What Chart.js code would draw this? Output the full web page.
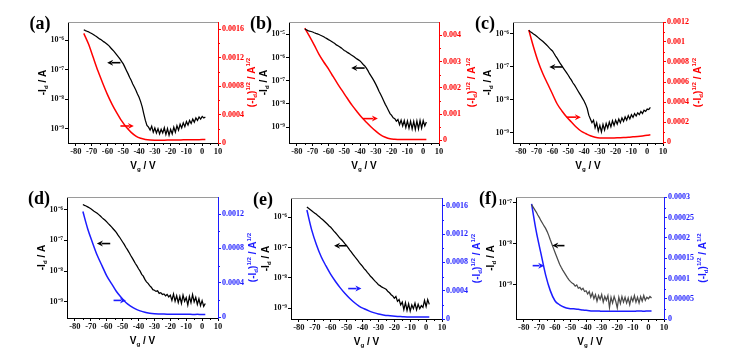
<!DOCTYPE html>
<html><head><meta charset="utf-8">
<script src="https://cdn.jsdelivr.net/npm/chart.js@4/dist/chart.umd.min.js"></script>
<style>
html,body{margin:0;padding:0;background:#fff;}
#wrap{position:relative;width:745px;height:353px;overflow:hidden;background:#fff;}
canvas{position:absolute;}
</style></head><body><div id="wrap"></div>
<script>
// ---------------- data ----------------
const vg = [-75,-74,-73,-72,-71,-70,-69,-68,-67,-66,-65,-64,-63,-62,-61,-60,-59,-58,-57,-56,-55,-54,-53,-52,-51,-50,-49,-48,-47,-46,-45,-44,-43,-42,-41,-40,-39,-38,-37,-36,-35,-34,-33,-32,-31,-30,-29,-28,-27,-26,-25,-24,-23,-22,-21,-20,-19,-18,-17,-16,-15,-14,-13,-12,-11,-10,-9,-8,-7,-6,-5,-4,-3,-2,-1,0,1,2];
const vgS = [-75,-72,-69,-66,-63,-60,-57,-54,-51,-48,-45,-42,-39,-36,-33,-30,-27,-24,-21,-18,-15,-12,-9,-6,-3,0,2];

const idA = [2.29e-6,2.14e-6,2.04e-6,1.95e-6,1.82e-6,1.70e-6,1.58e-6,1.45e-6,1.35e-6,1.23e-6,
1.12e-6,1.05e-6,9.5e-7,8.7e-7,7.9e-7,7.2e-7,6.5e-7,5.6e-7,4.9e-7,4.3e-7,
3.7e-7,3.16e-7,2.7e-7,2.3e-7,1.9e-7,1.58e-7,1.23e-7,9.5e-8,7.4e-8,5.6e-8,
4.4e-8,3.3e-8,2.6e-8,2.0e-8,1.5e-8,1.17e-8,8.3e-9,5.5e-9,3.16e-9,1.9e-9,
1.29e-9,1.12e-9,8.9e-10,1.2e-9,7.6e-10,1.05e-9,7.1e-10,1.0e-9,6.6e-10,9.5e-10,
7.1e-10,1.07e-9,6.3e-10,1.0e-9,6.0e-10,9.5e-10,6.6e-10,1.12e-9,7.6e-10,1.26e-9,
8.9e-10,1.41e-9,1.05e-9,1.58e-9,1.17e-9,1.74e-9,1.32e-9,1.9e-9,1.5e-9,2.1e-9,
1.66e-9,2.3e-9,1.9e-9,2.5e-9,2.1e-9,2.6e-9,2.3e-9,2.5e-9];
const idB = [1.70e-5,1.58e-5,1.45e-5,1.38e-5,1.32e-5,1.26e-5,1.17e-5,1.10e-5,1.05e-5,9.8e-6,
9.1e-6,8.5e-6,7.8e-6,7.1e-6,6.5e-6,5.9e-6,5.4e-6,4.9e-6,4.4e-6,4.0e-6,
3.5e-6,3.2e-6,2.9e-6,2.6e-6,2.3e-6,2.0e-6,1.86e-6,1.66e-6,1.51e-6,1.35e-6,
1.23e-6,1.10e-6,9.8e-7,8.7e-7,7.9e-7,7.1e-7,6.0e-7,5.0e-7,4.3e-7,3.5e-7,
2.7e-7,2.0e-7,1.58e-7,1.23e-7,9.3e-8,6.9e-8,5.0e-8,3.5e-8,2.6e-8,1.86e-8,
1.32e-8,9.5e-9,7.1e-9,5.2e-9,3.8e-9,3.2e-9,2.5e-9,2.3e-9,1.78e-9,2.1e-9,
1.26e-9,2.0e-9,1.12e-9,1.9e-9,9.5e-10,1.82e-9,8.9e-10,1.78e-9,8.3e-10,1.74e-9,
7.9e-10,1.82e-9,8.3e-10,1.9e-9,8.9e-10,1.9e-9,1.12e-9,1.66e-9];
const idC = [1.26e-6,1.15e-6,1.07e-6,9.8e-7,9.1e-7,8.3e-7,7.6e-7,6.9e-7,6.3e-7,5.8e-7,
5.2e-7,4.7e-7,4.2e-7,3.7e-7,3.3e-7,3.0e-7,2.5e-7,2.1e-7,1.78e-7,1.48e-7,
1.23e-7,1.05e-7,8.9e-8,7.6e-8,6.5e-8,5.5e-8,4.6e-8,3.9e-8,3.2e-8,2.75e-8,
2.3e-8,1.9e-8,1.58e-8,1.32e-8,1.10e-8,9.1e-9,7.2e-9,5.4e-9,3.4e-9,2.6e-9,
2.0e-9,2.4e-9,1.41e-9,2.0e-9,1.12e-9,1.66e-9,1.05e-9,1.78e-9,1.2e-9,1.9e-9,
1.38e-9,2.1e-9,1.5e-9,2.3e-9,1.66e-9,2.4e-9,1.82e-9,2.6e-9,2.0e-9,2.8e-9,
2.2e-9,3.0e-9,2.4e-9,3.3e-9,2.6e-9,3.5e-9,2.9e-9,3.8e-9,3.2e-9,4.0e-9,
3.5e-9,4.4e-9,3.8e-9,4.8e-9,4.4e-9,5.2e-9,5.0e-9,5.8e-9];
const idD = [1.48e-6,1.38e-6,1.32e-6,1.23e-6,1.15e-6,1.07e-6,9.8e-7,8.9e-7,8.3e-7,7.6e-7,
6.9e-7,6.2e-7,5.5e-7,5.0e-7,4.5e-7,4.0e-7,3.5e-7,3.1e-7,2.75e-7,2.4e-7,
2.1e-7,1.82e-7,1.51e-7,1.29e-7,1.07e-7,8.9e-8,7.4e-8,6.0e-8,5.0e-8,4.1e-8,
3.3e-8,2.7e-8,2.2e-8,1.78e-8,1.48e-8,1.20e-8,1.0e-8,7.9e-9,6.9e-9,5.4e-9,
4.5e-9,4.0e-9,3.4e-9,3.0e-9,2.5e-9,2.4e-9,2.2e-9,2.3e-9,1.9e-9,2.0e-9,
1.74e-9,1.82e-9,1.58e-9,1.74e-9,1.45e-9,1.66e-9,1.12e-9,1.82e-9,1.05e-9,1.58e-9,
9.5e-10,1.51e-9,8.9e-10,1.66e-9,1.05e-9,1.38e-9,7.9e-10,1.51e-9,9.5e-10,1.74e-9,
1.0e-9,1.41e-9,8.3e-10,1.26e-9,7.6e-10,1.1e-9,7.2e-10,8.9e-10];
const idE = [2.2e-6,2.0e-6,1.82e-6,1.66e-6,1.51e-6,1.38e-6,1.26e-6,1.12e-6,1.02e-6,9.1e-7,
8.3e-7,7.4e-7,6.6e-7,5.9e-7,5.2e-7,4.7e-7,4.1e-7,3.5e-7,3.1e-7,2.7e-7,
2.3e-7,2.0e-7,1.78e-7,1.55e-7,1.32e-7,1.15e-7,9.8e-8,8.3e-8,7.1e-8,6.0e-8,
5.1e-8,4.4e-8,3.8e-8,3.2e-8,2.75e-8,2.4e-8,2.0e-8,1.78e-8,1.51e-8,1.32e-8,
1.12e-8,1.0e-8,8.7e-9,7.6e-9,6.8e-9,5.9e-9,5.5e-9,5.0e-9,4.7e-9,4.4e-9,
4.1e-9,3.5e-9,3.2e-9,2.75e-9,2.5e-9,2.1e-9,2.4e-9,1.66e-9,1.9e-9,1.26e-9,
1.58e-9,8.9e-10,1.51e-9,8.3e-10,1.38e-9,7.9e-10,1.26e-9,9.5e-10,1.45e-9,8.7e-10,
1.32e-9,9.5e-10,1.2e-9,1.05e-9,1.78e-9,1.12e-9,1.9e-9,1.32e-9];
const idF = [9.1e-8,7.9e-8,6.9e-8,6.0e-8,5.1e-8,4.4e-8,3.7e-8,3.2e-8,2.75e-8,2.4e-8,
2.0e-8,1.62e-8,1.26e-8,1.0e-8,7.9e-9,6.3e-9,5.0e-9,4.0e-9,3.2e-9,2.7e-9,
2.3e-9,2.0e-9,1.74e-9,1.51e-9,1.32e-9,1.2e-9,1.12e-9,1.05e-9,9.3e-10,1.0e-9,
8.3e-10,8.7e-10,7.6e-10,8.3e-10,6.9e-10,7.2e-10,6.0e-10,6.9e-10,5.0e-10,6.3e-10,
4.6e-10,5.8e-10,4.0e-10,5.5e-10,4.4e-10,5.8e-10,3.8e-10,5.2e-10,4.2e-10,5.5e-10,
2.8e-10,5.0e-10,3.6e-10,5.2e-10,4.0e-10,2.75e-10,5.0e-10,3.5e-10,5.2e-10,3.8e-10,
5.0e-10,3.6e-10,4.8e-10,3.3e-10,5.0e-10,4.0e-10,5.5e-10,3.8e-10,5.0e-10,3.6e-10,
5.2e-10,4.0e-10,5.5e-10,4.2e-10,5.0e-10,4.6e-10,5.2e-10,4.8e-10];

const sqA = [0.00154,0.00139,0.00120,0.00101,0.00084,0.00068,0.00054,0.00042,0.00031,0.00022,0.000150,0.000098,0.000066,0.000050,0.000042,0.000040,0.000040,0.000040,0.000041,0.000042,0.000043,0.000044,0.000045,0.000046,0.000047,0.000048,0.000049];
const sqB = [0.00427,0.00395,0.00362,0.00327,0.00298,0.00272,0.00242,0.00213,0.00186,0.00159,0.00133,0.00110,0.00088,0.00069,0.00051,0.00035,0.00021,0.00012,0.00006,0.00004,0.00003,0.00003,0.00003,0.00003,0.00003,0.00003,0.00003];
const sqC = [0.00112,0.00095,0.00080,0.00068,0.00058,0.00048,0.00038,0.00031,0.00025,0.00020,0.00015,0.00011,0.000085,0.000062,0.000048,0.000041,0.000040,0.000040,0.000041,0.000043,0.000045,0.000048,0.000052,0.000056,0.000061,0.000067,0.000072];
const sqD = [0.00123,0.00103,0.00087,0.00072,0.00060,0.00048,0.00039,0.00030,0.00023,0.00017,0.000128,0.000095,0.000072,0.000055,0.000045,0.000039,0.000036,0.000034,0.000033,0.000032,0.000033,0.000031,0.000032,0.000030,0.000031,0.000030,0.000030];
const sqE = [0.00154,0.00126,0.00105,0.00088,0.00075,0.00063,0.00053,0.00044,0.00036,0.00029,0.00023,0.00018,0.000145,0.000115,0.000090,0.000070,0.000058,0.000048,0.000041,0.000036,0.000033,0.000030,0.000029,0.000028,0.000029,0.000028,0.000028];
const sqF = [0.000284,0.000216,0.000162,0.000109,0.000070,0.000045,0.000035,0.000029,0.000026,0.000025,0.000024,0.000022,0.000021,0.000020,0.000020,0.000019,0.000019,0.000019,0.000019,0.000019,0.000019,0.000019,0.000019,0.000020,0.000019,0.000020,0.000020];

// arrows: [tail Vg, tip Vg, Id level on left axis]
const arrowsA = [[-51.8,-60.2,1.74e-7],[-51.8,-43.3,1.23e-9]];
const arrowsB = [[-37.1,-45.6,3.5e-7],[-38.2,-28.7,2.3e-9]];
const arrowsC = [[-53.5,-62.0,9.8e-8],[-51.0,-42.0,2.95e-9]];
const arrowsD = [[-57.8,-66.2,7.9e-8],[-55.7,-47.9,1.12e-9]];
const arrowsE = [[-50.0,-57.9,1.15e-7],[-49.0,-40.7,4.4e-9]];
const arrowsF = [[-53.9,-61.7,9.1e-9],[-74.3,-66.9,2.95e-9]];

// ticks
const xTicks = [-80,-70,-60,-50,-40,-30,-20,-10,0,10];
const xLabels = ['-80','-70','-60','-50','-40','-30','-20','-10','0','10'];
const logTicks4 = [1e-9,1e-8,1e-7,1e-6];
const logLabels4 = ['10\u207B\u2079','10\u207B\u2078','10\u207B\u2077','10\u207B\u2076'];
const logTicks5 = [1e-9,1e-8,1e-7,1e-6,1e-5];
const logLabels5 = ['10\u207B\u2079','10\u207B\u2078','10\u207B\u2077','10\u207B\u2076','10\u207B\u2075'];
const logTicks3 = [1e-9,1e-8,1e-7];
const logLabels3 = ['10\u207B\u2079','10\u207B\u2078','10\u207B\u2077'];
const rTicksA = [0,0.0004,0.0008,0.0012,0.0016];
const rLabelsA = ['0','0.0004','0.0008','0.0012','0.0016'];
const rTicksB = [0,0.001,0.002,0.003,0.004];
const rLabelsB = ['0','0.001','0.002','0.003','0.004'];
const rTicksC = [0,0.0002,0.0004,0.0006,0.0008,0.001,0.0012];
const rLabelsC = ['0','0.0002','0.0004','0.0006','0.0008','0.001','0.0012'];
const rTicksD = [0,0.0004,0.0008,0.0012];
const rLabelsD = ['0','0.0004','0.0008','0.0012'];
const rTicksF = [0,0.00005,0.0001,0.00015,0.0002,0.00025,0.0003];
const rLabelsF = ['0','0.00005','0.0001','0.00015','0.0002','0.00025','0.0003'];

// ---------------- drawing helpers ----------------
const SANS = '"Liberation Sans", Arial, sans-serif';
const SERIF = '"Liberation Serif", "Times New Roman", serif';
const T_LEFT = [{t:'-I'},{t:'d',k:-1},{t:' / A'}];
const T_X = [{t:'V'},{t:'g',k:-1},{t:' / V'}];
const T_RIGHT = [{t:'(-I'},{t:'d',k:-1},{t:')'},{t:'1/2',k:1},{t:' / A'},{t:'1/2',k:1}];

function drawRich(ctx, segs, cx, cy, rot, color, size){
  ctx.save();
  ctx.translate(cx, cy);
  if (rot) ctx.rotate(-Math.PI/2);
  let total = 0;
  const parts = segs.map(s => {
    const fs = s.k ? size*0.62 : size;
    ctx.font = 'bold ' + fs + 'px ' + SANS;
    const w = ctx.measureText(s.t).width;
    total += w;
    return {s, fs, w};
  });
  let x = -total/2;
  ctx.fillStyle = color; ctx.textAlign = 'left'; ctx.textBaseline = 'alphabetic';
  parts.forEach(p => {
    ctx.font = 'bold ' + p.fs + 'px ' + SANS;
    const dy = p.s.k === 1 ? -size*0.42 : (p.s.k === -1 ? size*0.28 : 0);
    ctx.fillText(p.s.t, x, size*0.36 + dy);
    x += p.w;
  });
  ctx.restore();
}
function drawArrow(ctx, x0, x1, y, color){
  const dir = Math.sign(x1 - x0), hl = 6, hw = 3;
  ctx.save();
  ctx.strokeStyle = color; ctx.fillStyle = color; ctx.lineWidth = 1.6;
  ctx.beginPath(); ctx.moveTo(x0, y); ctx.lineTo(x1 - dir*hl*0.8, y); ctx.stroke();
  ctx.beginPath(); ctx.moveTo(x1, y); ctx.lineTo(x1 - dir*hl, y - hw); ctx.lineTo(x1 - dir*hl*0.7, y); ctx.lineTo(x1 - dir*hl, y + hw); ctx.closePath(); ctx.fill();
  ctx.restore();
}

// ---------------- panels ----------------
const RED = '#ff0000', BLUE = '#1c1cff';
const panels = [
  {label:'(a)', box:[0,0,262,176], plot:[68,22,218,143], id:idA, sq:sqA, arrows:arrowsA, c2:RED, c1:'#000', rto:33,
   yL:[3.25e-10,4.2e-6], lt:logTicks4, ll:logLabels4, yR:[0,0.0017], rt:rTicksA, rl:rLabelsA},
  {label:'(b)', box:[240,0,488,176], plot:[289,22,439,143], id:idB, sq:sqB, arrows:arrowsB, c2:RED, c1:'#000', rto:32,
   yL:[2.04e-10,3.4e-5], lt:logTicks5, ll:logLabels5, yR:[-0.0001,0.0045], rt:rTicksB, rl:rLabelsB},
  {label:'(c)', box:[465,0,720,176], plot:[513,22,663,143], id:idC, sq:sqC, arrows:arrowsC, c2:RED, c1:'#000', rto:34,
   yL:[4.86e-10,2.26e-6], lt:logTicks4, ll:logLabels4, yR:[-0.00001,0.0012], rt:rTicksC, rl:rLabelsC},
  {label:'(d)', box:[0,175,262,353], plot:[67,197,218,318], id:idD, sq:sqD, arrows:arrowsD, c2:BLUE, c1:'#000', rto:34,
   yL:[3.0e-10,2.58e-6], lt:logTicks4, ll:logLabels4, yR:[-0.0000116,0.0014], rt:rTicksD, rl:rLabelsD},
  {label:'(e)', box:[240,175,490,353], plot:[291,198,442,319], id:idE, sq:sqE, arrows:arrowsE, c2:BLUE, c1:'#000', rto:34,
   yL:[4.33e-10,4.37e-6], lt:logTicks4, ll:logLabels4, yR:[0,0.00171], rt:rTicksA, rl:rLabelsA},
  {label:'(f)', box:[465,175,720,353], plot:[516,197,664,319], id:idF, sq:sqF, arrows:arrowsF, c2:BLUE, c1:'#4a4a4a', rto:38,
   yL:[1.47e-10,1.4e-7], lt:logTicks3, ll:logLabels3, yR:[0,0.000301], rt:rTicksF, rl:rLabelsF}
];

const wrap = document.getElementById('wrap');
panels.forEach(p => {
  const [bx0, by0, bx1, by1] = p.box;
  const [pl, pt, pr, pb] = p.plot;
  const W = bx1 - bx0, H = by1 - by0;
  const cv = document.createElement('canvas');
  cv.width = W; cv.height = H;
  cv.style.left = bx0 + 'px'; cv.style.top = by0 + 'px';
  cv.style.width = W + 'px'; cv.style.height = H + 'px';
  wrap.appendChild(cv);

  const deco = {
    id: 'deco',
    afterDraw(chart){
      const ctx = chart.ctx, a = chart.chartArea;
      const sx = chart.scales.x, sl = chart.scales.yL, sr = chart.scales.yR;
      ctx.save();
      ctx.strokeStyle = '#9a9a9a'; ctx.lineWidth = 1;
      ctx.beginPath(); ctx.moveTo(a.left, a.top + 0.5); ctx.lineTo(a.right, a.top + 0.5); ctx.stroke();
      ctx.strokeStyle = '#000';
      for (let i = 0; i < xTicks.length - 1; i++) {
        const px = Math.round(sx.getPixelForValue((xTicks[i] + xTicks[i+1]) / 2)) + 0.5;
        ctx.beginPath(); ctx.moveTo(px, a.bottom); ctx.lineTo(px, a.bottom + 2); ctx.stroke();
      }
      ctx.strokeStyle = p.c2;
      for (let i = 0; i < p.rt.length - 1; i++) {
        const py = Math.round(sr.getPixelForValue((p.rt[i] + p.rt[i+1]) / 2)) + 0.5;
        ctx.beginPath(); ctx.moveTo(a.right, py); ctx.lineTo(a.right + 2, py); ctx.stroke();
      }
      ctx.restore();
      p.arrows.forEach((ar, i) => {
        drawArrow(ctx, sx.getPixelForValue(ar[0]), sx.getPixelForValue(ar[1]), sl.getPixelForValue(ar[2]), i === 0 ? '#000' : p.c2);
      });
      drawRich(ctx, T_X, (a.left + a.right) / 2, a.bottom + 22, false, '#000', 10);
      drawRich(ctx, T_LEFT, a.left - 26, (a.top + a.bottom) / 2, true, '#000', 10);
      drawRich(ctx, T_RIGHT, a.right + p.rto, (a.top + a.bottom) / 2, true, p.c2, 10);
      ctx.save();
      ctx.font = 'bold 18px ' + SERIF; ctx.fillStyle = '#000';
      ctx.textAlign = 'center'; ctx.textBaseline = 'middle';
      ctx.fillText(p.label, a.left - 28, a.top + 2);
      ctx.restore();
    }
  };

  const tickFont = {family: SERIF, weight: 'bold', size: 8.5};
  new Chart(cv, {
    type: 'line',
    data: {
      datasets: [
        {data: vg.map((x, i) => ({x: x, y: p.id[i]})), yAxisID: 'yL', borderColor: p.c1, borderWidth: 1.25, pointRadius: 0, tension: 0},
        {data: vgS.map((x, i) => ({x: x, y: p.sq[i]})), yAxisID: 'yR', borderColor: p.c2, borderWidth: 1.5, pointRadius: 0, cubicInterpolationMode: 'monotone'}
      ]
    },
    options: {
      responsive: false, animation: false, devicePixelRatio: 1,
      layout: {padding: {top: pt - by0, left: 0, right: 0, bottom: 0}},
      plugins: {legend: {display: false}, tooltip: {enabled: false}},
      scales: {
        x: {
          type: 'linear', min: -85, max: 10,
          afterBuildTicks: s => { s.ticks = xTicks.map(v => ({value: v})); },
          afterFit: s => { s.height = by1 - pb; },
          ticks: {autoSkip: false, maxRotation: 0, padding: 1, color: '#111', font: tickFont,
                  callback: (v, i) => xLabels[i]},
          grid: {drawOnChartArea: false, drawTicks: true, tickLength: 3, color: '#000'},
          border: {display: true, color: '#000', width: 1}
        },
        yL: {
          type: 'logarithmic', position: 'left', min: p.yL[0], max: p.yL[1],
          afterBuildTicks: s => { s.ticks = p.lt.map(v => ({value: v})); },
          afterFit: s => { s.width = pl - bx0; },
          ticks: {autoSkip: false, padding: 1, color: '#111', font: {family: SERIF, weight: 'bold', size: 8},
                  callback: (v, i) => p.ll[i]},
          grid: {drawOnChartArea: false, drawTicks: true, tickLength: 3, color: '#000'},
          border: {display: true, color: '#000', width: 1}
        },
        yR: {
          type: 'linear', position: 'right', min: p.yR[0], max: p.yR[1],
          afterBuildTicks: s => { s.ticks = p.rt.map(v => ({value: v})); },
          afterFit: s => { s.width = bx1 - pr; },
          ticks: {autoSkip: false, padding: 1, color: p.c2, font: {family: SERIF, weight: 'bold', size: 8},
                  callback: (v, i) => p.rl[i]},
          grid: {drawOnChartArea: false, drawTicks: true, tickLength: 3, color: p.c2},
          border: {display: true, color: p.c2, width: 1}
        }
      }
    },
    plugins: [deco]
  });
});
</script>
</body></html>
